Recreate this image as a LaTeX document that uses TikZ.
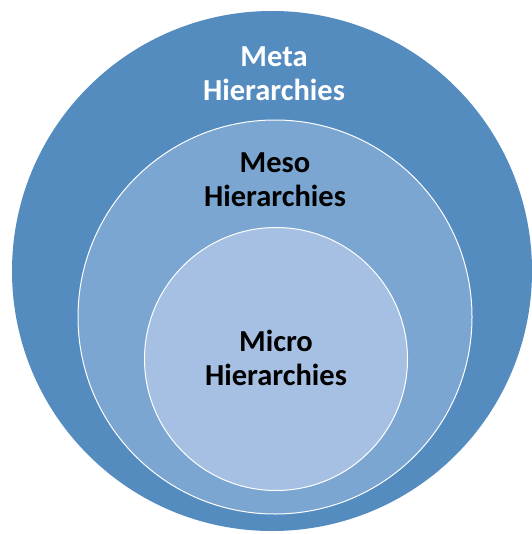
\documentclass[tikz,border=0pt]{standalone}
\usepackage{fontspec}
\setmainfont{Carlito}
\definecolor{outerblue}{RGB}{84,140,192}
\definecolor{midblue}{RGB}{123,166,210}
\definecolor{innerblue}{RGB}{166,192,227}
\begin{document}
\begin{tikzpicture}[x=1pt,y=-1pt,
  ring/.style={circle,draw=white,line width=1pt,inner sep=0pt},
  lbl/.style={align=center,font=\fontsize{30.5}{34}\selectfont\bfseries,anchor=base}]
\useasboundingbox[fill=white] (0,0) rectangle (531,534);
\node[ring,fill=outerblue,draw=none,minimum size=520pt] (outer) at (272,271) {};
\node[ring,fill=midblue,minimum size=394pt] (meso) at (275,317) {};
\node[ring,fill=innerblue,minimum size=263pt] (micro) at (276,359) {};
\node[lbl,text=white] (metal) at (274,101) {Meta\\Hierarchies};
\node[lbl,text=black] (mesol) at (275,207) {Meso\\Hierarchies};
\node[lbl,text=black] (microl) at (276,385) {Micro\\Hierarchies};
\end{tikzpicture}
\end{document}
